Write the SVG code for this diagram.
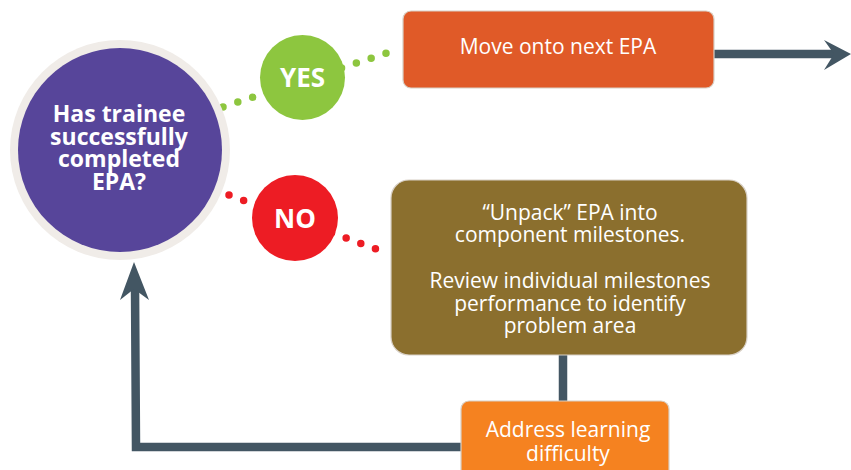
<svg xmlns="http://www.w3.org/2000/svg" width="851" height="470" viewBox="0 0 851 470">
<style>
.t{font-family:"Open Sans","Liberation Sans",sans-serif;fill:#fff;text-anchor:middle}
.b{font-weight:bold}
.box{stroke:#d8d0c6;stroke-width:1.2}
.arr{stroke:#435663;stroke-width:8.5;fill:none}
.head{fill:#435663}
</style>
<rect width="851" height="470" fill="#fff"/>
<g id="connectors">
<line x1="223" y1="107" x2="396" y2="50" stroke="#8dc63f" stroke-width="7.5" stroke-linecap="round" stroke-dasharray="0 15.6"/>
<line x1="229" y1="195" x2="387" y2="253" stroke="#ed1c24" stroke-width="7.5" stroke-linecap="round" stroke-dasharray="0 15.6"/>
<line class="arr" x1="714" y1="54" x2="838" y2="54"/>
<polygon class="head" points="824,40 851,54 824,70 834,54"/>
<line class="arr" x1="563" y1="354" x2="563" y2="402"/>
<polyline class="arr" points="462,447 136,447 135,286"/>
<polygon class="head" points="134,262 149,300 134,289 120,300"/>
</g>
<g id="question">
<circle cx="120" cy="150" r="110" fill="#f0ece8"/>
<circle cx="120" cy="150" r="102" fill="#57459a"/>
<text class="t b" font-size="23"><tspan x="119" y="122">Has trainee</tspan><tspan x="119" y="145">successfully</tspan><tspan x="119" y="167">completed</tspan><tspan x="119" y="190">EPA?</tspan></text>
</g>
<g id="yes">
<circle cx="302.5" cy="77.5" r="42.5" fill="#8dc63f"/>
<text class="t b" x="302.5" y="87" font-size="26">YES</text>
</g>
<g id="no">
<circle cx="295" cy="218" r="43" fill="#ed1c24"/>
<text class="t b" x="295" y="228" font-size="26">NO</text>
</g>
<g id="next">
<rect class="box" x="403" y="11" width="311" height="77" rx="8" fill="#e05a28"/>
<text class="t" x="558" y="54" font-size="21">Move onto next EPA</text>
</g>
<g id="unpack">
<rect class="box" x="391" y="180" width="356" height="175" rx="18" fill="#8b6f2e"/>
<text class="t" font-size="21"><tspan x="570" y="220">“Unpack” EPA into</tspan><tspan x="570" y="242">component milestones.</tspan><tspan x="570" y="288">Review individual milestones</tspan><tspan x="570" y="311">performance to identify</tspan><tspan x="570" y="333">problem area</tspan></text>
</g>
<g id="address">
<rect class="box" x="461" y="401" width="208" height="80" rx="8" fill="#f58220"/>
<text class="t" font-size="21"><tspan x="568" y="437">Address learning</tspan><tspan x="568" y="461">difficulty</tspan></text>
</g>
</svg>
